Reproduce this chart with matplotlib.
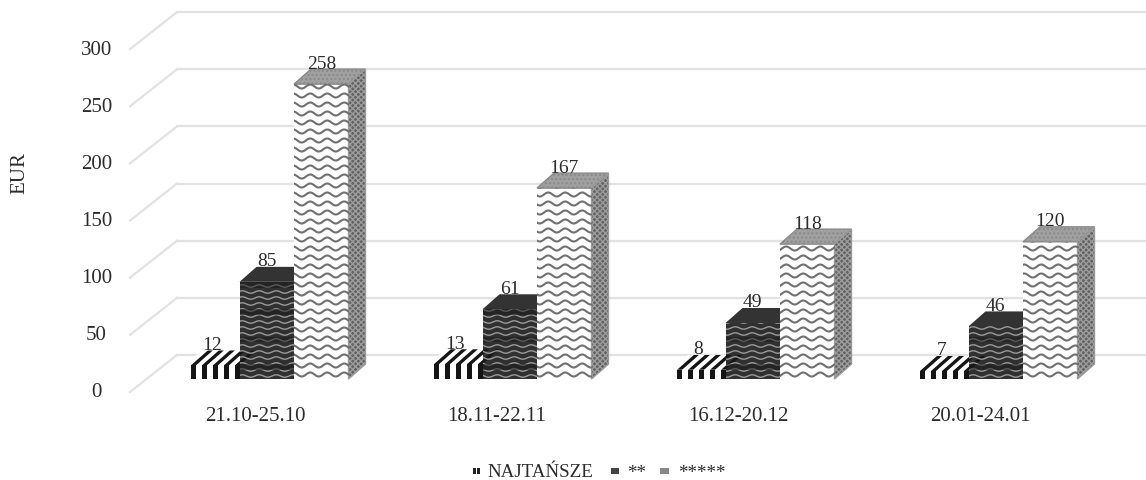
import numpy as np
import matplotlib
matplotlib.use("Agg")
import matplotlib.pyplot as plt
from matplotlib.patches import Polygon, Rectangle

plt.rcParams['font.family'] = ['Liberation Serif', 'DejaVu Serif']
plt.rcParams['hatch.linewidth'] = 1.0

# dane
okresy = ["21.10-25.10", "18.11-22.11", "16.12-20.12", "20.01-24.01"]
najtansze = [12, 13, 8, 7]
dwie_gwiazdki = [85, 61, 49, 46]
piec_gwiazdek = [258, 167, 118, 120]
ticks_y = [0, 50, 100, 150, 200, 250, 300]
nazwy = ["NAJTAŃSZE", "**", "*****"]

# os y w EUR, os x w pikselach
SKALA = 1.143
BAZA = 380
ODSTEP = 243
SZER = 54.5
DX = 17
DY = 15 / SKALA
TEKST = "#2b2b2b"


def wart(piksel):
    return (BAZA - piksel) / SKALA


def fala(ax, x0, x1, y0, y1, krok_y, okres, amp, kolor, lw, clip):
    xs = np.arange(x0, x1 + 0.5, 0.5)
    for y in np.arange(y0 + krok_y / 2, y1 + krok_y, krok_y):
        ln, = ax.plot(xs, y + amp * np.sin(xs * 2 * np.pi / okres), color=kolor, lw=lw, zorder=4)
        ln.set_clip_path(clip)


def slupek(ax, x, v, front, gora, bok, rodzaj):
    p_front = Polygon([(x, 0), (x + SZER, 0), (x + SZER, v), (x, v)], fc=front, ec="none", zorder=3)
    p_gora = Polygon([(x, v), (x + SZER, v), (x + SZER + DX, v + DY), (x + DX, v + DY)], fc=gora, ec="none", zorder=3)
    p_bok = Polygon([(x + SZER, 0), (x + SZER + DX, DY), (x + SZER + DX, v + DY), (x + SZER, v)], fc=bok, ec="none", zorder=3)
    ax.add_patch(p_front)
    ax.add_patch(p_gora)
    ax.add_patch(p_bok)
    if rodzaj == 0:
        # pionowe paski
        for sx in np.arange(x + 6, x + SZER, 11):
            r = Rectangle((sx, 0), 5, v, fc="#151515", ec="none", zorder=4)
            ax.add_patch(r)
            r.set_clip_path(p_front)
            t = Polygon([(sx, v), (sx + 5, v), (sx + 5 + DX, v + DY), (sx + DX, v + DY)], fc="#151515", ec="none", zorder=4)
            ax.add_patch(t)
            t.set_clip_path(p_gora)
        p_bok.set_visible(False)
    elif rodzaj == 1:
        fala(ax, x, x + SZER, 0, v, 6 / SKALA, 17, 1.2 / SKALA, "#9a9a9a", 1.0, p_front)
        for pas in np.arange(8, v, 24):
            r = Rectangle((x, pas), SZER, 5, fc="#1a1a1a", ec="none", alpha=0.5, zorder=5)
            ax.add_patch(r)
            r.set_clip_path(p_front)
    else:
        fala(ax, x, x + SZER, 0, v, 9 / SKALA, 17, 2.0 / SKALA, "#707070", 1.5, p_front)
        p_gora.set_hatch("....")
        p_gora.set_edgecolor("#8a8a8a")
        p_bok.set_hatch("xxxxxx")
        p_bok.set_edgecolor("#9c9c9c")


fig = plt.figure(figsize=(11.46, 4.81), dpi=100)
ax = fig.add_axes([0, 0, 1, 1])
ax.set_xlim(0, 1146)
ax.set_ylim(wart(481), wart(0))
ax.axis("off")

# siatka: sciana tylna i podloga
for t in ticks_y:
    ax.plot([177, 1146], [t + wart(356), t + wart(356)], color="#e2e2e2", lw=1.6, zorder=1)
    ax.plot([130, 177], [t + wart(393), t + wart(356)], color="#e2e2e2", lw=1.6, zorder=1)
    ax.text(96.5, t + wart(393), str(t), ha="center", va="center", fontsize=15, color=TEKST)

serie = [
    (najtansze, "white", "white", "white", 0),
    (dwie_gwiazdki, "#303030", "#333333", "#333333", 1),
    (piec_gwiazdek, "white", "#a0a0a0", "#626262", 2),
]
for i, okres in enumerate(okresy):
    lewy = 185 + ODSTEP * i
    for j, (wartosci, front, gora, bok, rodzaj) in enumerate(serie):
        x = lewy + SZER * j
        v = wartosci[i]
        slupek(ax, x, v, front, gora, bok, rodzaj)
        ax.text(x + SZER / 2, v + 21 / SKALA, str(v), ha="center", va="center", fontsize=14, color=TEKST, zorder=6)
    ax.text(255 + 241.7 * i, wart(417), okres, ha="center", va="center", fontsize=15, color=TEKST)

ax.text(20, wart(173), "EUR", rotation=90, ha="center", va="center", fontsize=15, color=TEKST)

# legenda
y_leg = wart(472)
for x_m, szer, kolor in [(473, 2.5, "#222222"), (477, 2.5, "#222222"), (611, 8, "#444444"), (660, 9, "#888888")]:
    ax.add_patch(Rectangle((x_m, y_leg - 3 / SKALA), szer, 6 / SKALA, fc=kolor, ec="none"))
ax.text(487, wart(473), nazwy[0], ha="left", va="center", fontsize=13.7, color=TEKST)
ax.text(627, wart(474), nazwy[1], ha="left", va="center", fontsize=13.7, color=TEKST)
ax.text(678, wart(474), nazwy[2], ha="left", va="center", fontsize=13.7, color=TEKST)

fig.savefig("out.png", dpi=100)
